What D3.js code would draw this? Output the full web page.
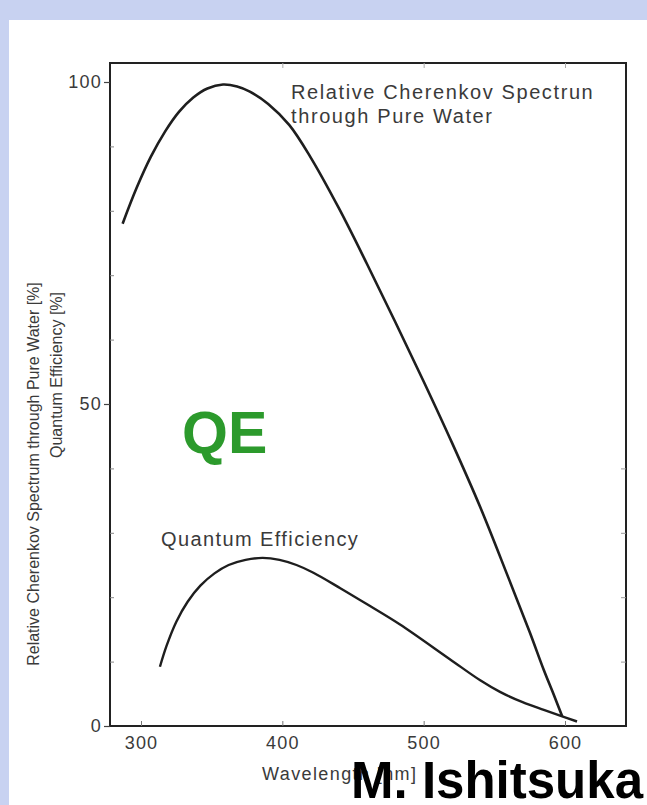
<!DOCTYPE html>
<html>
<head>
<meta charset="utf-8">
<script src="https://cdn.jsdelivr.net/npm/d3@7"></script>
<style>
  body { margin: 0; background: #c8d2f1; }
  svg { display: block; }
  .lbl { font-family: "Liberation Sans", Arial, sans-serif; fill: #3a3a3a; }
</style>
</head>
<body>
<div id="chart"></div>
<script>
// wavelength [nm] / relative value [%]
var cherenkovWave = [287, 297, 307, 317, 327, 337, 347, 358, 368, 377, 390, 405, 420, 440, 460, 480, 500, 520, 540, 560, 575, 585, 592, 598];
var cherenkovVal  = [78, 83.6, 88.4, 92.3, 95.4, 97.6, 99, 99.6, 99.3, 98.5, 96.6, 93.3, 88.3, 80.4, 71.7, 62.7, 53.5, 44, 34, 23, 14.6, 8.7, 4.9, 1.5];

var qeWave = [313.4, 318, 325, 333, 342, 352, 362, 374, 386, 398, 410, 422, 441, 460, 483, 519, 540, 554, 570, 585, 598, 608.5];
var qeVal  = [9.2, 12.4, 16.2, 19.3, 21.8, 23.7, 25, 25.8, 26.1, 25.8, 25, 23.8, 21.4, 18.9, 15.8, 10.3, 7.1, 5.3, 3.7, 2.5, 1.5, 0.7];

var xTicks = [300, 400, 500, 600];
var yTicks = [0, 50, 100];
var yMinor = [10, 20, 30, 40, 60, 70, 80, 90];

var W = 647, H = 805;

var svg = d3.select("#chart").append("svg")
    .attr("width", W)
    .attr("height", H);

// white slide panel
svg.append("rect")
   .attr("x", 9).attr("y", 20)
   .attr("width", W - 9).attr("height", H - 20)
   .attr("fill", "#ffffff");

// scales in page pixels
var x = d3.scaleLinear().domain([300, 600]).range([141, 565]);
var y = d3.scaleLinear().domain([0, 100]).range([726, 82]);

var x0 = x.invert(110), x1 = x.invert(626);
var yTop = y.invert(63);

// frame
svg.append("rect")
   .attr("x", x(x0)).attr("y", y(yTop))
   .attr("width", x(x1) - x(x0)).attr("height", y(0) - y(yTop))
   .attr("fill", "none")
   .attr("stroke", "#222")
   .attr("stroke-width", 2);

// left axis: labelled ticks outward, minor ticks inward
var left = svg.append("g")
   .attr("transform", "translate(" + x(x0) + ",0)")
   .call(d3.axisLeft(y).tickValues(yTicks).tickSize(6).tickPadding(2));
left.select(".domain").remove();
left.selectAll("line").attr("stroke", "#444").attr("stroke-width", 1.2);
left.selectAll("text").attr("class", "lbl")
    .style("font-size", "18px").style("letter-spacing", "1.2px").attr("fill", "#3a3a3a");

svg.append("g")
   .attr("transform", "translate(" + x(x0) + ",0)")
   .call(d3.axisRight(y).tickValues(yMinor).tickSize(4).tickFormat(""))
   .call(g => g.select(".domain").remove())
   .selectAll("line").attr("stroke", "#888");

svg.append("g")
   .attr("transform", "translate(" + x(x1) + ",0)")
   .call(d3.axisLeft(y).tickValues(yMinor.filter(d => d < 55)).tickSize(5).tickFormat(""))
   .call(g => g.select(".domain").remove())
   .selectAll("line").attr("stroke", "#999");

// bottom axis: inward ticks, labels below
var bottom = svg.append("g")
   .attr("transform", "translate(0," + y(0) + ")")
   .call(d3.axisBottom(x).tickValues(xTicks).tickSizeInner(-5).tickSizeOuter(0).tickPadding(10));
bottom.select(".domain").remove();
bottom.selectAll("line").attr("stroke", "#777");
bottom.selectAll("text").attr("class", "lbl")
    .style("font-size", "18px").style("letter-spacing", "1.2px").attr("fill", "#3a3a3a");

svg.append("g")
   .attr("transform", "translate(0," + y(yTop) + ")")
   .call(d3.axisBottom(x).tickValues([400, 500, 600]).tickSize(5).tickFormat(""))
   .call(g => g.select(".domain").remove())
   .selectAll("line").attr("stroke", "#aaa");

// curves
var line = d3.line()
    .x(d => x(d[0]))
    .y(d => y(d[1]))
    .curve(d3.curveCatmullRom.alpha(0.5));

svg.append("path")
   .datum(d3.zip(cherenkovWave, cherenkovVal))
   .attr("d", line)
   .attr("fill", "none")
   .attr("stroke", "#1e1e1e")
   .attr("stroke-width", 2.6);

svg.append("path")
   .datum(d3.zip(qeWave, qeVal))
   .attr("d", line)
   .attr("fill", "none")
   .attr("stroke", "#1e1e1e")
   .attr("stroke-width", 2.4);

// in-plot labels (the scanned lettering is widely spaced)
var t = svg.append("text").attr("class", "lbl")
   .style("font-size", "20px").style("letter-spacing", "1.6px");
t.append("tspan").attr("x", 291).attr("y", 99).text("Relative Cherenkov Spectrun");
t.append("tspan").attr("x", 291).attr("y", 123).text("through Pure Water");

svg.append("text").attr("class", "lbl")
   .attr("x", 161).attr("y", 546)
   .style("font-size", "20px").style("letter-spacing", "1.4px")
   .text("Quantum Efficiency");

svg.append("text")
   .attr("x", 182).attr("y", 453)
   .style("font-family", "'Liberation Sans', Arial, sans-serif")
   .style("font-weight", "bold")
   .style("font-size", "59px")
   .attr("fill", "#2c9a2c")
   .text("QE");

// axis titles
svg.append("text").attr("class", "lbl")
   .attr("transform", "translate(39,474) rotate(-90)")
   .attr("text-anchor", "middle")
   .style("font-size", "16px")
   .text("Relative Cherenkov Spectrum through Pure Water  [%]");

svg.append("text").attr("class", "lbl")
   .attr("transform", "translate(62,375) rotate(-90)")
   .attr("text-anchor", "middle")
   .style("font-size", "16px")
   .text("Quantum Efficiency  [%]");

svg.append("text").attr("class", "lbl")
   .attr("x", 262).attr("y", 780)
   .style("font-size", "18px").style("letter-spacing", "1.4px")
   .text("Wavelength [nm]");

// author credit over the scan
svg.append("text")
   .attr("x", 643).attr("y", 798)
   .attr("text-anchor", "end")
   .style("font-family", "'Liberation Sans', Arial, sans-serif")
   .style("font-weight", "bold")
   .style("font-size", "51px")
   .attr("fill", "#000")
   .text("M. Ishitsuka");
</script>
</body>
</html>
